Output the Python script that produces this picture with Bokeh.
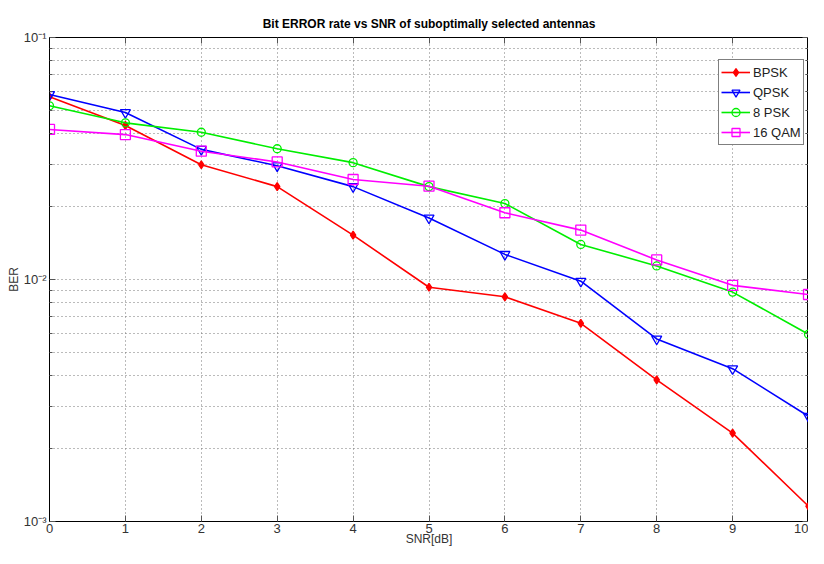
from bokeh.plotting import figure
from bokeh.models import (FixedTicker, CustomJSTickFormatter, LinearAxis, LogAxis,
                          Legend, LegendItem, Range1d)
from bokeh.embed import file_html
from bokeh.resources import INLINE

# ---- data ----
snr = [0, 1, 2, 3, 4, 5, 6, 7, 8, 9, 10]
bpsk = [0.0569, 0.0433, 0.0298, 0.0242, 0.01525, 0.00929, 0.00848, 0.00659, 0.00385, 0.00232, 0.001156]
qpsk = [0.0581, 0.0490, 0.0345, 0.0295, 0.0242, 0.01795, 0.0127, 0.00984, 0.00568, 0.00428, 0.00272]
psk8 = [0.0522, 0.0444, 0.0406, 0.0347, 0.0304, 0.0242, 0.0206, 0.01396, 0.01138, 0.00887, 0.00594]
qam16 = [0.0417, 0.0397, 0.0339, 0.0306, 0.0259, 0.0243, 0.01887, 0.0160, 0.01205, 0.00946, 0.00867]
series_names = ["BPSK", "QPSK", "8 PSK", "16 QAM"]
x_ticks = list(range(0, 11))
y_major = [0.001, 0.01, 0.1]

FONT = "Liberation Sans"

y_minor = [m * d for d in [0.001, 0.01] for m in range(2, 10)]

p = figure(width=808, height=548, x_range=Range1d(0, 10), y_range=Range1d(0.001, 0.1),
           y_axis_type="log", output_backend="svg", toolbar_location=None,
           min_border_left=49, min_border_right=0, min_border_top=37, min_border_bottom=20)

p.title.text = "Bit ERROR rate vs SNR of suboptimally selected antennas"
p.title.align = "center"
p.title.text_font = FONT
p.title.text_font_size = "12px"
p.title.text_font_style = "bold"
p.title.text_color = "black"
p.title.offset = 0
p.title.standoff = 14

p.outline_line_color = "black"
p.background_fill_color = "white"
p.border_fill_color = "white"

xt = FixedTicker(ticks=x_ticks)
yt = FixedTicker(ticks=y_major, minor_ticks=y_minor)

exp_fmt = CustomJSTickFormatter(code="""
const e = Math.round(Math.log10(tick));
const sup = {'-':'\u207b','0':'\u2070','1':'\u00b9','2':'\u00b2','3':'\u00b3','4':'\u2074','5':'\u2075','6':'\u2076','7':'\u2077','8':'\u2078','9':'\u2079'};
return '10' + String(e).split('').map(c => sup[c]).join('');
""")
blank_fmt = CustomJSTickFormatter(code="return '';")

xa = p.xaxis[0]
xa.ticker = xt
xa.axis_label = "SNR[dB]"
ya = p.yaxis[0]
ya.ticker = yt
ya.formatter = exp_fmt
ya.axis_label = "BER"

for ax in (xa, ya):
    ax.axis_label_text_font = FONT
    ax.axis_label_text_font_size = "12px"
    ax.axis_label_text_font_style = "normal"
    ax.axis_label_text_color = "#333333"
    ax.major_label_text_font = FONT
    ax.major_label_text_font_size = "13px"
    ax.major_label_text_color = "#333333"
    ax.axis_line_color = "black"
    ax.major_tick_in = 6
    ax.major_tick_out = 0
    ax.major_tick_line_color = "#555555"
    ax.minor_tick_in = 3
    ax.minor_tick_out = 0
    ax.minor_tick_line_color = "#555555"
    ax.axis_label_standoff = 0
    ax.major_label_standoff = 3
xa.minor_tick_line_color = None
xa.axis_label_standoff = -4
xa.major_label_standoff = 2

top = LinearAxis(ticker=FixedTicker(ticks=x_ticks), formatter=blank_fmt,
                 major_tick_in=6, major_tick_out=0, minor_tick_line_color=None,
                 major_label_standoff=0, major_label_text_font_size="0px",
                 major_tick_line_color="#555555", axis_line_color="black")
right = LogAxis(ticker=FixedTicker(ticks=y_major, minor_ticks=y_minor), formatter=blank_fmt,
                major_tick_in=6, major_tick_out=0, minor_tick_in=3, minor_tick_out=0,
                major_label_standoff=0, major_label_text_font_size="0px",
                major_tick_line_color="#555555",
                minor_tick_line_color="#555555", axis_line_color="black")
p.add_layout(top, "above")
p.add_layout(right, "right")

p.xgrid.ticker = xt
p.ygrid.ticker = yt
for g in (p.xgrid[0], p.ygrid[0]):
    g.grid_line_color = "#777777"
    g.grid_line_dash = "1 3"
    g.grid_line_width = 1
p.ygrid.minor_grid_line_color = "#777777"
p.ygrid.minor_grid_line_dash = "1 3"

colors = ["#ff0000", "#0000ff", "#00ee00", "#ff00ff"]
markers = ["diamond", "inverted_triangle", "circle", "square"]
sizes = [8, 10, 8, 10]
data = [bpsk, qpsk, psk8, qam16]

items = []
for name, ys, c, m, s in zip(series_names, data, colors, markers, sizes):
    ln = p.line(snr, ys, line_color=c, line_width=1.6)
    fill = c if m == "diamond" else None
    sc = p.scatter(snr, ys, marker=m, size=s, line_color=c, fill_color=fill, line_width=1.3)
    items.append(LegendItem(label=name, renderers=[ln, sc]))

legend = Legend(items=items, location=(669, 376))
legend.border_line_color = "black"
legend.border_line_width = 1
legend.background_fill_color = "white"
legend.background_fill_alpha = 1
legend.label_text_font = FONT
legend.label_text_font_size = "13px"
legend.label_text_color = "#222222"
legend.glyph_width = 29
legend.glyph_height = 20
legend.label_height = 20
legend.label_standoff = 3
legend.spacing = 0
legend.padding = 2
legend.margin = 0
p.add_layout(legend, "center")

open("out.html", "w").write(file_html(p, INLINE))
